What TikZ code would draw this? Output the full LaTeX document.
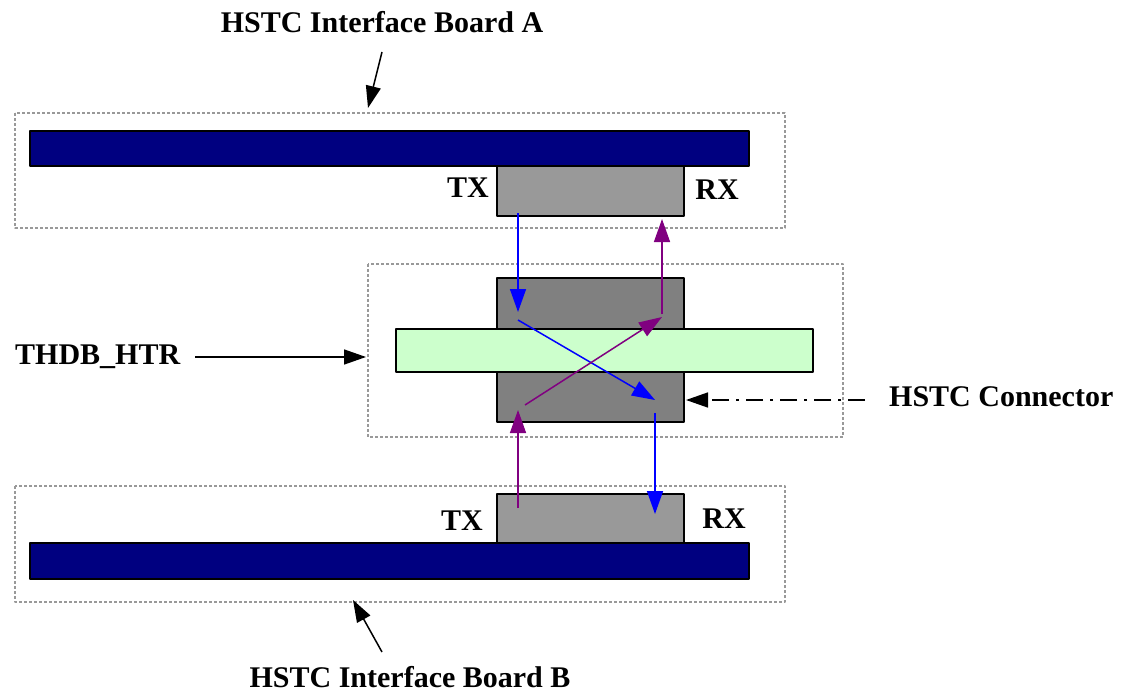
\documentclass[tikz,border=0pt]{standalone}
\usepackage{fontspec}
\setmainfont{Liberation Serif}
\usetikzlibrary{arrows.meta}
\definecolor{boardnavy}{HTML}{000080}
\definecolor{plugA}{HTML}{999999}
\definecolor{plugM}{HTML}{808080}
\definecolor{htrgreen}{HTML}{CCFFCC}
\definecolor{sigpurple}{HTML}{800080}
\tikzset{
  frame/.style={draw=gray!80, dash pattern=on 3pt off 2pt, line width=1.5pt},
  bar/.style={draw=black, line width=1.5pt, inner sep=0pt},
  lbl/.style={font=\bfseries\fontsize{30}{36}\selectfont, inner sep=0pt},
  sig/.style={line width=1.5pt, -{Triangle[length=23pt, width=16pt]}},
  pointer/.style={line width=1.5pt, -{Triangle[length=22pt, width=15pt]}}
}
\begin{document}
\begin{tikzpicture}[x=1pt, y=-1pt, line join = round]
  \useasboundingbox (0,0) rectangle (1123,693);
  % frames
  \draw[frame] (15,113) rectangle (785,228);
  \draw[frame] (368,264) rectangle (843,437);
  \draw[frame] (15,486) rectangle (785,602);
  % boards and connectors
  \node[bar, fill=boardnavy, minimum width=719pt, minimum height=35pt] (barA) at (389.5,148.5) {};
  \node[bar, fill=plugA, minimum width=187pt, minimum height=50pt] (plugA) at (590.5,191) {};
  \node[bar, fill=plugM, minimum width=187pt, minimum height=144pt] (plugM) at (590.5,350) {};
  \node[bar, fill=htrgreen, minimum width=417pt, minimum height=43pt] (htr) at (604.5,350.5) {};
  \node[bar, fill=plugA, minimum width=187pt, minimum height=49pt] (plugB) at (590.5,518.5) {};
  \node[bar, fill=boardnavy, minimum width=719pt, minimum height=36pt] (barB) at (389.5,561) {};
  % labels
  \node[lbl] (txA) at (468,188) {TX};
  \node[lbl] (rxA) at (717,190) {RX};
  \node[lbl] (txB) at (462,521) {TX};
  \node[lbl] (rxB) at (724,519) {RX};
  \node[lbl] (nameA) at (382,22) {HSTC Interface Board A};
  \node[lbl] (nameB) at (410,677) {HSTC Interface Board B};
  \node[lbl, anchor=west] (nameH) at (15,357) {THDB\_HTR};
  \node[lbl, anchor=west] (nameC) at (889,397) {HSTC Connector};
  % pointers
  \coordinate (sA) at (382,52);  \coordinate (pA) at (368,108);
  \coordinate (sB) at (382,652); \coordinate (pB) at (353,600);
  \coordinate (sH) at (195,357); \coordinate (pH) at (366,357);
  \coordinate (sC) at (865,400); \coordinate (pC) at (686,400);
  \draw[pointer] (sA) -- (pA);
  \draw[pointer] (sB) -- (pB);
  \draw[pointer] (sH) -- (pH);
  \draw[pointer, dash pattern=on 17pt off 7pt on 3pt off 7pt] (sC) -- (pC);
  % signals
  \coordinate (t1) at (518,213); \coordinate (t2) at (518,312);
  \coordinate (t3) at (518,320); \coordinate (t4) at (655,400);
  \coordinate (t5) at (655,413); \coordinate (t6) at (655,514);
  \coordinate (r1) at (518,508); \coordinate (r2) at (518,410);
  \coordinate (r3) at (525,405); \coordinate (r4) at (662,317);
  \coordinate (r5) at (662,314); \coordinate (r6) at (662,219);
  \draw[sig, blue] (t1) -- (t2);
  \draw[sig, blue] (t3) -- (t4);
  \draw[sig, blue] (t5) -- (t6);
  \draw[sig, sigpurple] (r1) -- (r2);
  \draw[sig, sigpurple] (r3) -- (r4);
  \draw[sig, sigpurple] (r5) -- (r6);
\end{tikzpicture}
\end{document}
